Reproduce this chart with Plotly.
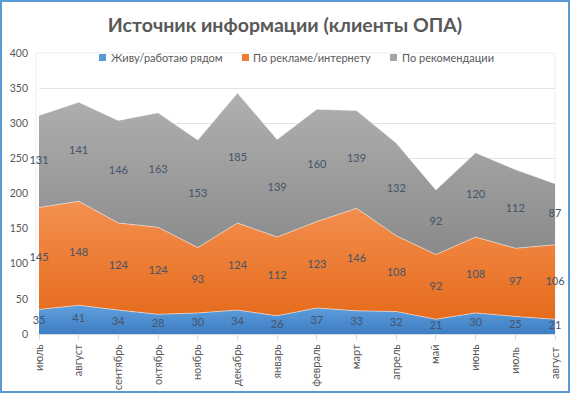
import plotly.graph_objects as go

months = ["июль", "август", "сентябрь", "октябрь", "ноябрь", "декабрь", "январь",
          "февраль", "март", "апрель", "май", "июнь", "июль ", "август "]
near = [35, 41, 34, 28, 30, 34, 26, 37, 33, 32, 21, 30, 25, 21]
ads = [145, 148, 124, 124, 93, 124, 112, 123, 146, 108, 92, 108, 97, 106]
recs = [131, 141, 146, 163, 153, 185, 139, 160, 139, 132, 92, 120, 112, 87]

names = ["Живу/работаю рядом", "По рекламе/интернету", "По рекомендации"]
series = [near, ads, recs]
grads = [("#3C7DC4", "#62A0DC"), ("#E56B1C", "#F49050"), ("#8A8A8A", "#B0B0B0")]
legcol = ["#5B9BD5", "#ED7D31", "#A5A5A5"]
FONT = "Lato"

W, H = 570, 393
ML, MR, MT, MB = 39, 15, 53, 59
PW, PH = W - ML - MR, H - MT - MB


def px_x(p):
    return (p - ML) / PW


def px_y(p):
    return 1 - (p - MT) / PH


x = list(range(len(months)))
fig = go.Figure()
cum = [0] * len(months)
mids = []
for name, vals, (c0, c1), lc in zip(names, series, grads, legcol):
    top = [a + b for a, b in zip(cum, vals)]
    mids.append([a + b / 2 for a, b in zip(cum, vals)])
    fig.add_trace(go.Scatter(
        x=x, y=vals, name=name, stackgroup="one", mode="lines",
        line=dict(width=0.8, color="rgba(255,255,255,0.6)"),
        fillcolor=lc,
        fillgradient=dict(type="vertical", colorscale=[[0, c0], [1, c1]]),
        showlegend=False, hoverinfo="skip"))
    cum = top

for vals, m in zip(series, mids):
    fig.add_trace(go.Scatter(
        x=x, y=m, mode="text", text=[str(v) for v in vals], cliponaxis=False,
        textfont=dict(family=FONT, size=11, color="#44546A"),
        showlegend=False, hoverinfo="skip"))

# manual legend (layout only)
leg_sq = [99, 242, 390]
leg_tx = [109, 251, 400]
for name, lc, sx, tx in zip(names, legcol, leg_sq, leg_tx):
    fig.add_shape(type="rect", xref="paper", yref="paper",
                  x0=px_x(sx), x1=px_x(sx + 7), y0=px_y(61), y1=px_y(54),
                  fillcolor=lc, line=dict(width=0))
    fig.add_annotation(xref="paper", yref="paper", x=px_x(tx), y=px_y(57.5),
                       xanchor="left", yanchor="middle", showarrow=False, text=name,
                       font=dict(family=FONT, size=11, color="#595959"))

fig.update_layout(
    width=W, height=H,
    margin=dict(l=ML, r=MR, t=MT, b=MB, autoexpand=False),
    paper_bgcolor="white", plot_bgcolor="white",
    title=dict(text="<b>Источник информации (клиенты ОПА)</b>", x=0.5, xanchor="center",
               y=0.936, yanchor="middle",
               font=dict(family=FONT, size=19.5, color="#595959")),
    font=dict(family=FONT, color="#595959"),
    showlegend=False,
)
fig.update_xaxes(tickmode="array", tickvals=x, ticktext=months, range=[0, len(months) - 1],
                 tickangle=-90, tickfont=dict(size=11, color="#595959"), automargin=False,
                 showgrid=False, ticks="outside", ticklen=5, tickcolor="#D9D9D9",
                 showline=True, linecolor="#D9D9D9", zeroline=False)
fig.update_yaxes(range=[0, 400], dtick=50, tickfont=dict(size=10.5, color="#595959"),
                 automargin=False, ticklabelstandoff=10,
                 gridcolor="#E3E3E3", showline=False, zeroline=False, ticks="")
fig.add_shape(type="rect", xref="paper", yref="paper", x0=-0.006, x1=1.0, y0=0, y1=1,
              line=dict(color="#EDEDED", width=1), layer="below")
fig.add_shape(type="rect", xref="paper", yref="paper",
              x0=px_x(1), x1=px_x(W - 1), y0=px_y(H - 1), y1=px_y(1),
              line=dict(color="#5B9BD5", width=2))
fig.write_html("out.html", config={"displayModeBar": False},
               post_script="document.body.style.margin='0';")
